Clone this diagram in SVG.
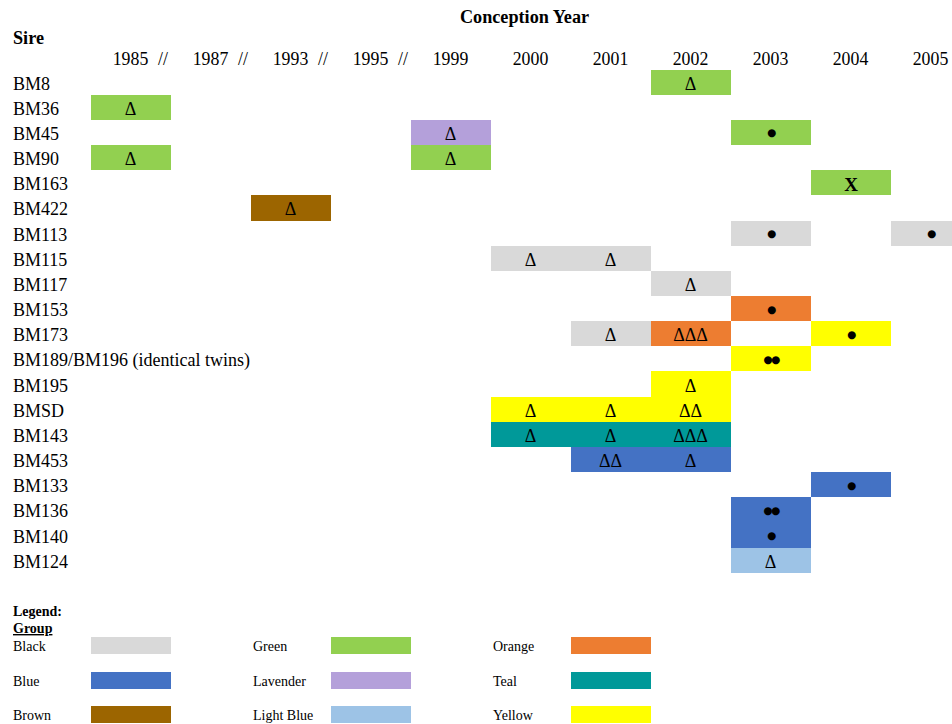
<svg xmlns="http://www.w3.org/2000/svg" width="952" height="724" viewBox="0 0 952 724">
<style>
text{font-family:"Liberation Serif","Times New Roman",serif;fill:#000}
.t{font-size:18.2px;font-weight:bold}
.y{font-size:17.8px;text-anchor:middle}
.sl{font-size:17.8px}
.lb{font-size:18px}
.s{font-size:18px;text-anchor:middle}
.d{font-family:"DejaVu Sans",sans-serif;font-size:10.5px;text-anchor:middle;letter-spacing:-1.4px}
.x{font-size:19px;font-weight:bold;text-anchor:middle}
.lg{font-size:14px}
.lgb{font-size:14px;font-weight:bold}
.gr{fill:#92D050}.lv{fill:#B4A0DA}.br{fill:#9C6500}.bk{fill:#D9D9D9}.or{fill:#ED7D31}
.ye{fill:#FFFF00}.te{fill:#009999}.bl{fill:#4472C4}.lbl{fill:#9DC3E6}
</style>
<g id="header">
<text class="t" x="524.5" y="23" text-anchor="middle">Conception Year</text>
<text class="t" x="13" y="44">Sire</text>
<text class="y" x="130.5" y="65">1985</text><text class="sl" x="158" y="65">//</text>
<text class="y" x="210.5" y="65">1987</text><text class="sl" x="238" y="65">//</text>
<text class="y" x="290.5" y="65">1993</text><text class="sl" x="318" y="65">//</text>
<text class="y" x="370.5" y="65">1995</text><text class="sl" x="398" y="65">//</text>
<text class="y" x="450.5" y="65">1999</text>
<text class="y" x="530.5" y="65">2000</text>
<text class="y" x="610.5" y="65">2001</text>
<text class="y" x="690.5" y="65">2002</text>
<text class="y" x="770.5" y="65">2003</text>
<text class="y" x="850.5" y="65">2004</text>
<text class="y" x="930.5" y="65">2005</text>
</g>
<g id="row-BM8">
<text class="lb" x="13" y="89.5">BM8</text>
<rect class="gr" x="651" y="70" width="80" height="25"/><text class="s" x="690.5" y="89.5">Δ</text>
</g>
<g id="row-BM36">
<text class="lb" x="13" y="114.7">BM36</text>
<rect class="gr" x="91" y="95" width="80" height="25"/><text class="s" x="130.5" y="114.7">Δ</text>
</g>
<g id="row-BM45">
<text class="lb" x="13" y="139.8">BM45</text>
<rect class="lv" x="411" y="120" width="80" height="25"/><text class="s" x="450.5" y="139.8">Δ</text>
<rect class="gr" x="731" y="120" width="80" height="25"/><text class="d" x="771" y="136.4">●</text>
</g>
<g id="row-BM90">
<text class="lb" x="13" y="165">BM90</text>
<rect class="gr" x="91" y="145" width="80" height="25"/><text class="s" x="130.5" y="165">Δ</text>
<rect class="gr" x="411" y="145" width="80" height="25"/><text class="s" x="450.5" y="165">Δ</text>
</g>
<g id="row-BM163">
<text class="lb" x="13" y="190.2">BM163</text>
<rect class="gr" x="811" y="170" width="80" height="25"/><text class="x" x="851" y="190.5">X</text>
</g>
<g id="row-BM422">
<text class="lb" x="13" y="215.4">BM422</text>
<rect class="br" x="251" y="195" width="80" height="26"/><text class="s" x="290.5" y="215.4">Δ</text>
</g>
<g id="row-BM113">
<text class="lb" x="13" y="240.5">BM113</text>
<rect class="bk" x="731" y="221" width="80" height="25"/><text class="d" x="771" y="237.3">●</text>
<rect class="bk" x="891" y="221" width="80" height="25"/><text class="d" x="931" y="237.3">●</text>
</g>
<g id="row-BM115">
<text class="lb" x="13" y="265.7">BM115</text>
<rect class="bk" x="491" y="246" width="80" height="25"/><text class="s" x="530.5" y="265.7">Δ</text>
<rect class="bk" x="571" y="246" width="80" height="25"/><text class="s" x="610.5" y="265.7">Δ</text>
</g>
<g id="row-BM117">
<text class="lb" x="13" y="290.9">BM117</text>
<rect class="bk" x="651" y="271" width="80" height="25"/><text class="s" x="690.5" y="290.9">Δ</text>
</g>
<g id="row-BM153">
<text class="lb" x="13" y="316">BM153</text>
<rect class="or" x="731" y="296" width="80" height="25"/><text class="d" x="771" y="312.6">●</text>
</g>
<g id="row-BM173">
<text class="lb" x="13" y="341.2">BM173</text>
<rect class="bk" x="571" y="321" width="80" height="25"/><text class="s" x="610.5" y="341.2">Δ</text>
<rect class="or" x="651" y="321" width="80" height="25"/><text class="s" x="690.5" y="341.2">ΔΔΔ</text>
<rect class="ye" x="811" y="321" width="80" height="25"/><text class="d" x="851" y="337.8">●</text>
</g>
<g id="row-BM189-BM196">
<text class="lb" x="13" y="366.4">BM189/BM196 (identical twins)</text>
<rect class="ye" x="731" y="346" width="80" height="25"/><text class="d" x="771" y="363">●●</text>
</g>
<g id="row-BM195">
<text class="lb" x="13" y="391.5">BM195</text>
<rect class="ye" x="651" y="371" width="80" height="26"/><text class="s" x="690.5" y="391.5">Δ</text>
</g>
<g id="row-BMSD">
<text class="lb" x="13" y="416.7">BMSD</text>
<rect class="ye" x="491" y="397" width="80" height="25"/><text class="s" x="530.5" y="416.7">Δ</text>
<rect class="ye" x="571" y="397" width="80" height="25"/><text class="s" x="610.5" y="416.7">Δ</text>
<rect class="ye" x="651" y="397" width="80" height="25"/><text class="s" x="690.5" y="416.7">ΔΔ</text>
</g>
<g id="row-BM143">
<text class="lb" x="13" y="441.9">BM143</text>
<rect class="te" x="491" y="422" width="80" height="25"/><text class="s" x="530.5" y="441.9">Δ</text>
<rect class="te" x="571" y="422" width="80" height="25"/><text class="s" x="610.5" y="441.9">Δ</text>
<rect class="te" x="651" y="422" width="80" height="25"/><text class="s" x="690.5" y="441.9">ΔΔΔ</text>
</g>
<g id="row-BM453">
<text class="lb" x="13" y="467.1">BM453</text>
<rect class="bl" x="571" y="447" width="80" height="25"/><text class="s" x="610.5" y="467.1">ΔΔ</text>
<rect class="bl" x="651" y="447" width="80" height="25"/><text class="s" x="690.5" y="467.1">Δ</text>
</g>
<g id="row-BM133">
<text class="lb" x="13" y="492.2">BM133</text>
<rect class="bl" x="811" y="472" width="80" height="25"/><text class="d" x="851" y="488.8">●</text>
</g>
<g id="row-BM136">
<text class="lb" x="13" y="517.4">BM136</text>
<rect class="bl" x="731" y="497" width="80" height="26"/><text class="d" x="771" y="514">●●</text>
</g>
<g id="row-BM140">
<text class="lb" x="13" y="542.6">BM140</text>
<rect class="bl" x="731" y="523" width="80" height="25"/><text class="d" x="771" y="539.2">●</text>
</g>
<g id="row-BM124">
<text class="lb" x="13" y="567.7">BM124</text>
<rect class="lbl" x="731" y="548" width="80" height="25"/><text class="s" x="770.5" y="567.7">Δ</text>
</g>
<g id="legend">
<text class="lgb" x="13" y="616">Legend:</text>
<text class="lgb" x="13" y="633" text-decoration="underline">Group</text>
<text class="lg" x="13" y="651">Black</text><rect class="bk" x="91" y="637" width="80" height="17"/>
<text class="lg" x="13" y="685.5">Blue</text><rect class="bl" x="91" y="672" width="80" height="17"/>
<text class="lg" x="13" y="720">Brown</text><rect class="br" x="91" y="706" width="80" height="17"/>
<text class="lg" x="253" y="651">Green</text><rect class="gr" x="331" y="637" width="80" height="17"/>
<text class="lg" x="253" y="685.5">Lavender</text><rect class="lv" x="331" y="672" width="80" height="17"/>
<text class="lg" x="253" y="720">Light Blue</text><rect class="lbl" x="331" y="706" width="80" height="17"/>
<text class="lg" x="493" y="651">Orange</text><rect class="or" x="571" y="637" width="80" height="17"/>
<text class="lg" x="493" y="685.5">Teal</text><rect class="te" x="571" y="672" width="80" height="17"/>
<text class="lg" x="493" y="720">Yellow</text><rect class="ye" x="571" y="706" width="80" height="17"/>
</g>
</svg>
